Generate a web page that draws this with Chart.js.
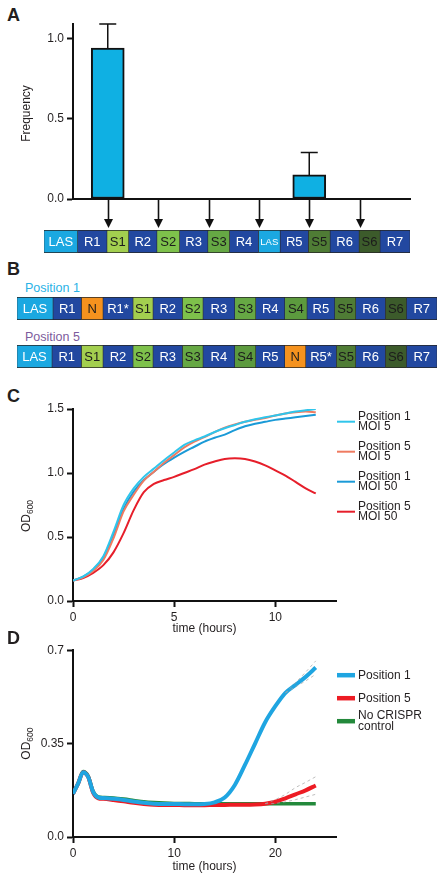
<!DOCTYPE html>
<html>
<head>
<meta charset="utf-8">
<script src="https://cdn.jsdelivr.net/npm/chart.js@4.4.1/dist/chart.umd.min.js"></script>
<style>
  body { margin: 0; background: #fff; font-family: "Liberation Sans", Arial, sans-serif; }
  #wrap { position: relative; width: 448px; height: 882px; overflow: hidden; }
  canvas { position: absolute; }
  .lbl { position: absolute; font-weight: bold; font-size: 18px; line-height: 18px; color: #231f20; }
  .pos { position: absolute; font-size: 12.5px; line-height: 12.5px; }
</style>
</head>
<body>
<div id="wrap">
  <div class="lbl" style="left:7px;top:6px">A</div>
  <canvas id="chartA" width="448" height="232" style="left:0;top:0"></canvas>
  <canvas id="stripA" width="366" height="23" style="left:44px;top:230px"></canvas>

  <div class="lbl" style="left:7px;top:260px">B</div>
  <div class="pos" style="left:25px;top:282px;color:#29b2e6">Position 1</div>
  <canvas id="stripB1" width="420" height="23" style="left:17px;top:297px"></canvas>
  <div class="pos" style="left:25px;top:331px;color:#7d5b9c">Position 5</div>
  <canvas id="stripB5" width="420" height="23" style="left:17px;top:345px"></canvas>

  <div class="lbl" style="left:7px;top:387px">C</div>
  <canvas id="chartC" width="448" height="245" style="left:0;top:395px"></canvas>

  <div class="lbl" style="left:7px;top:629px">D</div>
  <canvas id="chartD" width="448" height="242" style="left:0;top:640px"></canvas>
</div>

<script>
// ---- panel A: spacer frequency ----
const freqPositions = [0, 1, 2, 3, 4, 5];
const freqValues = [0.94, 0, 0, 0, 0.15, 0];
const freqErrors = [0.15, 0, 0, 0, 0.14, 0];
const yTicksA = [0, 0.5, 1.0];

// ---- CRISPR array strips ----
const stripANames = ['LAS', 'R1', 'S1', 'R2', 'S2', 'R3', 'S3', 'R4', 'LAS', 'R5', 'S5', 'R6', 'S6', 'R7'];
const stripALengths = [33.6, 29.4, 21.6, 28.4, 22.6, 28.4, 21.6, 29, 21.7, 28.3, 21.7, 29, 21, 30];

const pos1Names = ['LAS', 'R1', 'N', 'R1*', 'S1', 'R2', 'S2', 'R3', 'S3', 'R4', 'S4', 'R5', 'S5', 'R6', 'S6', 'R7'];
const pos1Lengths = [36, 28.4, 21.6, 30, 20, 29.4, 20.6, 31.7, 21, 29, 22.3, 27.7, 21, 29.7, 21, 30.6];

const pos5Names = ['LAS', 'R1', 'S1', 'R2', 'S2', 'R3', 'S3', 'R4', 'S4', 'R5', 'N', 'R5*', 'S5', 'R6', 'S6', 'R7'];
const pos5Lengths = [35, 29.4, 21.6, 30, 20, 29.4, 20.6, 31.7, 21, 29, 21, 30.7, 19.3, 29.7, 21, 30.6];

// ---- panel C: growth curves ----
const growthTimes = [0, 0.5, 1, 1.5, 2, 2.5, 3, 3.5, 4, 4.5, 5, 5.5, 6, 6.5, 7, 7.5, 8, 8.5, 9, 9.5, 10, 10.5, 11, 11.5, 12];
const pos1Moi5 = [0.16, 0.19, 0.25, 0.35, 0.54, 0.75, 0.88, 0.97, 1.035, 1.10, 1.16, 1.22, 1.255, 1.285, 1.32, 1.35, 1.375, 1.40, 1.42, 1.435, 1.45, 1.465, 1.48, 1.49, 1.50];
const pos5Moi5 = [0.16, 0.185, 0.235, 0.32, 0.49, 0.70, 0.83, 0.94, 1.01, 1.08, 1.14, 1.20, 1.245, 1.28, 1.32, 1.355, 1.38, 1.40, 1.415, 1.43, 1.45, 1.465, 1.475, 1.48, 1.475];
const pos1Moi50 = [0.16, 0.19, 0.245, 0.34, 0.52, 0.72, 0.855, 0.945, 1.01, 1.07, 1.12, 1.165, 1.205, 1.245, 1.275, 1.30, 1.335, 1.365, 1.385, 1.40, 1.415, 1.425, 1.435, 1.445, 1.455];
const pos5Moi50 = [0.16, 0.18, 0.22, 0.28, 0.38, 0.53, 0.71, 0.85, 0.915, 0.945, 0.97, 1.0, 1.03, 1.065, 1.09, 1.11, 1.115, 1.11, 1.09, 1.06, 1.02, 0.98, 0.93, 0.88, 0.84];
const xTicksC = [0, 5, 10];
const yTicksC = [0, 0.5, 1.0, 1.5];

// ---- panel D: long growth curves ----
const longTimes = [0, 0.5, 1, 1.5, 2, 2.5, 3, 4, 5, 6, 7, 8, 9, 10, 11, 12, 13, 14, 15, 16, 17, 18, 19, 20, 21, 22, 23, 24];
const pos1Od = [0.162, 0.2, 0.243, 0.225, 0.168, 0.148, 0.146, 0.143, 0.139, 0.133, 0.128, 0.125, 0.124, 0.124, 0.123, 0.123, 0.124, 0.13, 0.148, 0.195, 0.27, 0.35, 0.43, 0.49, 0.54, 0.57, 0.60, 0.635];
const pos5Od = [0.162, 0.2, 0.243, 0.225, 0.165, 0.145, 0.143, 0.139, 0.134, 0.128, 0.124, 0.121, 0.12, 0.12, 0.119, 0.119, 0.119, 0.12, 0.12, 0.121, 0.121, 0.122, 0.125, 0.132, 0.145, 0.16, 0.175, 0.193];
const noCrisprOd = [0.162, 0.2, 0.245, 0.228, 0.17, 0.15, 0.148, 0.146, 0.142, 0.137, 0.132, 0.129, 0.127, 0.126, 0.126, 0.125, 0.125, 0.125, 0.125, 0.125, 0.125, 0.125, 0.125, 0.125, 0.125, 0.125, 0.125, 0.125];
const pos1Upper = [null, null, null, null, null, null, null, null, null, null, null, null, null, null, null, null, null, null, null, null, null, null, null, null, 0.54, 0.578, 0.618, 0.66];
const pos1Lower = [null, null, null, null, null, null, null, null, null, null, null, null, null, null, null, null, null, null, null, null, null, null, null, null, 0.54, 0.563, 0.585, 0.61];
const pos5Upper = [null, null, null, null, null, null, null, null, null, null, null, null, null, null, null, null, null, null, null, null, null, null, 0.125, 0.14, 0.16, 0.185, 0.205, 0.226];
const pos5Lower = [null, null, null, null, null, null, null, null, null, null, null, null, null, null, null, null, null, null, null, null, null, null, 0.125, 0.126, 0.132, 0.14, 0.15, 0.16];
const xTicksD = [0, 10, 20];
const yTicksD = [0, 0.35, 0.7];

const INK = '#231f20';
const FONT = '"Liberation Sans", Arial, sans-serif';
Chart.defaults.font.family = FONT;
Chart.defaults.font.size = 12;
Chart.defaults.color = INK;

function toXY(xs, ys) {
  return xs.map((x, i) => ({ x: x, y: ys[i] }));
}

function segColor(name) {
  const colors = {
    LAS: '#1ba8e1', N: '#f5921e',
    S1: '#a3cf4f', S2: '#7ec14b', S3: '#66a844', S4: '#5c9a3e', S5: '#4f7c35', S6: '#3c5b2b'
  };
  if (colors[name]) return colors[name];
  return '#2248a0';
}

function axisStyle(ticks, fmt) {
  return {
    afterBuildTicks: s => { s.ticks = ticks.map(v => ({ value: v })); },
    ticks: { color: INK, font: { size: 12 }, padding: 3, callback: fmt },
    grid: { display: true, drawOnChartArea: false, drawTicks: true, tickLength: 6, tickWidth: 2, tickColor: '#111' },
    border: { display: true, color: '#111', width: 2 }
  };
}

// rotated y title with an optional subscript
const yTitle = {
  id: 'yTitle',
  afterDraw(chart, args, opts) {
    const ctx = chart.ctx;
    const area = chart.chartArea;
    ctx.save();
    ctx.translate(opts.x, (area.top + area.bottom) / 2 + (opts.dy || 0));
    ctx.rotate(-Math.PI / 2);
    ctx.fillStyle = INK;
    ctx.textBaseline = 'middle';
    ctx.font = '12px ' + FONT;
    const w1 = ctx.measureText(opts.text).width;
    let w2 = 0;
    if (opts.sub) {
      ctx.font = '8.5px ' + FONT;
      w2 = ctx.measureText(opts.sub).width;
    }
    const start = -(w1 + w2) / 2;
    ctx.font = '12px ' + FONT;
    ctx.textAlign = 'left';
    ctx.fillText(opts.text, start, 0);
    if (opts.sub) {
      ctx.font = '8.5px ' + FONT;
      ctx.fillText(opts.sub, start + w1, 3.5);
    }
    ctx.restore();
  }
};

// error bars for panel A
const errorBars = {
  id: 'errorBars',
  afterDatasetsDraw(chart) {
    const ctx = chart.ctx;
    const xs = chart.scales.x, ys = chart.scales.y;
    ctx.save();
    ctx.strokeStyle = '#111';
    ctx.lineWidth = 1.5;
    freqPositions.forEach((p, i) => {
      if (!freqErrors[i]) return;
      const x = xs.getPixelForValue(p);
      const y1 = ys.getPixelForValue(freqValues[i]);
      const y2 = ys.getPixelForValue(freqValues[i] + freqErrors[i]);
      ctx.beginPath();
      ctx.moveTo(x, y1);
      ctx.lineTo(x, y2);
      ctx.moveTo(x - 8.5, y2);
      ctx.lineTo(x + 8.5, y2);
      ctx.stroke();
    });
    ctx.restore();
  }
};

// arrows from the x axis down to the array
const arrows = {
  id: 'arrows',
  afterDraw(chart) {
    const ctx = chart.ctx;
    const xs = chart.scales.x;
    const top = chart.chartArea.bottom + 1;
    const tip = chart.chartArea.bottom + 29;
    ctx.save();
    ctx.strokeStyle = '#111';
    ctx.fillStyle = '#111';
    ctx.lineWidth = 1.6;
    freqPositions.forEach(p => {
      const x = Math.round(xs.getPixelForValue(p)) + 0.5;
      ctx.beginPath();
      ctx.moveTo(x, top);
      ctx.lineTo(x, tip - 6);
      ctx.stroke();
      ctx.beginPath();
      ctx.moveTo(x - 4.5, tip - 9);
      ctx.lineTo(x + 4.5, tip - 9);
      ctx.lineTo(x, tip);
      ctx.closePath();
      ctx.fill();
    });
    ctx.restore();
  }
};

// labels inside each block of the arrays
const segmentText = {
  id: 'segmentText',
  afterDatasetsDraw(chart) {
    const ctx = chart.ctx;
    ctx.save();
    ctx.textAlign = 'center';
    ctx.textBaseline = 'middle';
    chart.data.datasets.forEach((ds, i) => {
      const el = chart.getDatasetMeta(i).data[0];
      const name = ds.label;
      const w = Math.abs(el.x - el.base);
      const small = name === 'LAS' && w < 25;
      ctx.font = (small ? '9.5px ' : '13px ') + FONT;
      ctx.fillStyle = (name[0] === 'R' || name === 'LAS') ? '#ffffff' : '#1c1c1c';
      ctx.fillText(name, (el.x + el.base) / 2, el.y + 0.5);
    });
    ctx.restore();
  }
};

// legend to the right of the plot
const sideLegend = {
  id: 'sideLegend',
  afterDraw(chart, args, opts) {
    const ctx = chart.ctx;
    const area = chart.chartArea;
    ctx.save();
    ctx.textAlign = 'left';
    ctx.textBaseline = 'middle';
    ctx.font = '12px ' + FONT;
    for (let i = 0; i < opts.count; i++) {
      const ds = chart.data.datasets[i];
      const cy = area.top + opts.top + i * opts.gap;
      ctx.strokeStyle = ds.borderColor;
      ctx.lineWidth = opts.lineWidth;
      ctx.beginPath();
      ctx.moveTo(area.right + 1, cy);
      ctx.lineTo(area.right + 19, cy);
      ctx.stroke();
      const lines = ds.label.split('\n');
      const lh = 10.7;
      ctx.fillStyle = INK;
      lines.forEach((t, k) => {
        ctx.fillText(t, area.right + 22, cy + (k - (lines.length - 1) / 2) * lh);
      });
    }
    ctx.restore();
  }
};

// ---- panel A chart ----
new Chart(document.getElementById('chartA'), {
  type: 'bar',
  data: {
    datasets: [{
      data: toXY(freqPositions, freqValues),
      backgroundColor: '#0fb0e3',
      borderColor: '#111',
      borderWidth: 2,
      borderSkipped: false,
      barThickness: 33
    }]
  },
  options: {
    animation: false,
    responsive: false,
    layout: { padding: { top: 24, right: 38, left: 0, bottom: 0 } },
    plugins: {
      legend: { display: false },
      tooltip: { enabled: false },
      yTitle: { text: 'Frequency', x: 27, dy: 2 }
    },
    scales: {
      x: {
        type: 'linear', min: -0.69, max: 6.0,
        offset: false,
        ticks: { display: false },
        grid: { display: false, offset: false },
        border: { display: true, color: '#111', width: 2 },
        afterFit: s => { s.height = 33; }
      },
      y: Object.assign(axisStyle(yTicksA, v => v.toFixed(1)), {
        min: 0, max: 1.09,
        afterFit: s => { s.width = 73; }
      })
    }
  },
  plugins: [errorBars, arrows, yTitle]
});

// ---- array strips ----
function makeStrip(id, names, lengths) {
  const total = lengths.reduce((a, b) => a + b, 0);
  new Chart(document.getElementById(id), {
    type: 'bar',
    data: {
      labels: [''],
      datasets: names.map((n, i) => ({
        label: n,
        data: [lengths[i]],
        backgroundColor: segColor(n),
        borderColor: '#262626',
        borderWidth: { top: 1.2, bottom: 1.2, left: 0.6, right: 0.6 },
        borderSkipped: false,
        barPercentage: 1,
        categoryPercentage: 1
      }))
    },
    options: {
      indexAxis: 'y',
      animation: false,
      responsive: false,
      layout: { padding: 0 },
      plugins: { legend: { display: false }, tooltip: { enabled: false } },
      scales: {
        x: { stacked: true, display: false, min: 0, max: total },
        y: { stacked: true, display: false }
      }
    },
    plugins: [segmentText]
  });
}
makeStrip('stripA', stripANames, stripALengths);
makeStrip('stripB1', pos1Names, pos1Lengths);
makeStrip('stripB5', pos5Names, pos5Lengths);

// ---- panel C chart ----
function curve(label, xs, ys, color, width) {
  return {
    label: label,
    data: toXY(xs, ys),
    borderColor: color,
    backgroundColor: color,
    borderWidth: width,
    pointRadius: 0,
    cubicInterpolationMode: 'monotone',
    fill: false
  };
}

new Chart(document.getElementById('chartC'), {
  type: 'line',
  data: {
    datasets: [
      curve('Position 1\nMOI 5', growthTimes, pos1Moi5, '#30c5eb', 2),
      curve('Position 5\nMOI 5', growthTimes, pos5Moi5, '#ef7b61', 2),
      curve('Position 1\nMOI 50', growthTimes, pos1Moi50, '#1a9ad7', 2),
      curve('Position 5\nMOI 50', growthTimes, pos5Moi50, '#e61e2a', 2)
    ]
  },
  options: {
    animation: false,
    responsive: false,
    layout: { padding: { top: 14, right: 112, left: 0, bottom: 0 } },
    plugins: {
      legend: { display: false },
      tooltip: { enabled: false },
      yTitle: { text: 'OD', sub: '600', x: 27, dy: 11 },
      sideLegend: { count: 4, top: 12.7, gap: 30, lineWidth: 2 }
    },
    scales: {
      x: Object.assign(axisStyle(xTicksC, v => String(v)), {
        type: 'linear', min: 0, max: 13,
        title: { display: true, text: 'time (hours)', color: INK, font: { size: 12 }, padding: { top: 0, bottom: 4 } },
        afterFit: s => { s.height = 39; }
      }),
      y: Object.assign(axisStyle(yTicksC, v => v.toFixed(1)), {
        min: 0, max: 1.5,
        afterFit: s => { s.width = 73; }
      })
    }
  },
  plugins: [yTitle, sideLegend]
});

// ---- panel D chart ----
function sdLine(xs, ys) {
  return {
    label: '',
    data: toXY(xs, ys),
    borderColor: 'rgba(165,165,165,0.9)',
    borderWidth: 0.8,
    borderDash: [3, 3],
    pointRadius: 0,
    spanGaps: false,
    cubicInterpolationMode: 'monotone',
    order: -1
  };
}

new Chart(document.getElementById('chartD'), {
  type: 'line',
  data: {
    datasets: [
      curve('Position 1', longTimes, pos1Od, '#1fa5e1', 4),
      curve('Position 5', longTimes, pos5Od, '#ed1c24', 4),
      curve('No CRISPR\ncontrol', longTimes, noCrisprOd, '#23893b', 3.5),
      sdLine(longTimes, pos1Upper),
      sdLine(longTimes, pos1Lower),
      sdLine(longTimes, pos5Upper),
      sdLine(longTimes, pos5Lower)
    ]
  },
  options: {
    animation: false,
    responsive: false,
    layout: { padding: { top: 7, right: 112, left: 0, bottom: 0 } },
    plugins: {
      legend: { display: false },
      tooltip: { enabled: false },
      yTitle: { text: 'OD', sub: '600', x: 27, dy: 0 },
      sideLegend: { count: 3, top: 25, gap: 23, lineWidth: 4.5 }
    },
    scales: {
      x: Object.assign(axisStyle(xTicksD, v => String(v)), {
        type: 'linear', min: 0, max: 26,
        title: { display: true, text: 'time (hours)', color: INK, font: { size: 12 }, padding: { top: 0, bottom: 8 } },
        afterFit: s => { s.height = 45; }
      }),
      y: Object.assign(axisStyle(yTicksD, v => (v === 0 ? '0.0' : String(v))), {
        min: 0, max: 0.7,
        afterFit: s => { s.width = 73; }
      })
    }
  },
  plugins: [yTitle, sideLegend]
});
</script>
</body>
</html>
